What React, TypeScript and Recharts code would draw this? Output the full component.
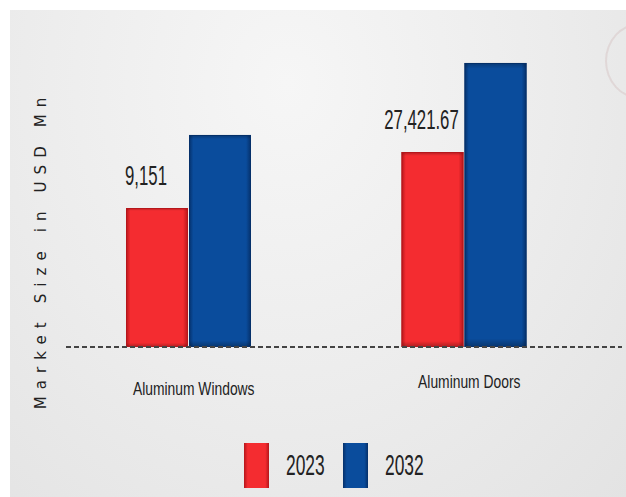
import { BarChart, Bar, XAxis, YAxis, Legend, LabelList, ReferenceLine } from 'recharts';

const CATEGORIES = ['Aluminum Windows', 'Aluminum Doors'];
const VALUES_2023 = [9151, 27421.67];
const VALUES_2032 = [33000, 56500];
const SERIES = ['2023', '2032'];
const COLORS = ['#f42c30', '#0a4c9c'];
const EDGES = ['#b5161b', '#05306a'];

// bars are not drawn to scale in the source, so the axis floor sits below zero
const AXIS_FLOOR = -36200;
const AXIS_TOP = 64000;

const data = CATEGORIES.map((name, i) => ({
  name,
  y2023: VALUES_2023[i],
  y2032: VALUES_2032[i],
}));

const NARROW = "'Liberation Sans Narrow', 'Liberation Sans', Arial, sans-serif";

const BevelBar = (props: any) => {
  const { x, y, width, height, idx } = props;
  if (!height || height <= 0) return null;
  return (
    <g>
      <rect x={x} y={y} width={width} height={height} fill={`url(#side${idx})`} />
      <rect x={x} y={y} width={width} height={height} fill="url(#topShade)" />
      <rect x={x + 0.5} y={y + 0.5} width={width - 1} height={height - 1} fill="none" stroke={EDGES[idx]} strokeWidth={1} />
    </g>
  );
};

const ValueLabel = (props: any) => {
  const { x, y, width, index } = props;
  const text = VALUES_2023[index].toLocaleString('en-US', { maximumFractionDigits: 2 });
  const cx = x + width / 2 - 11;
  return (
    <text transform={`translate(${cx}, ${y - 23}) scale(0.62, 1)`} textAnchor="middle" fontFamily={NARROW} fontSize={27} fill="#222">
      {text}
    </text>
  );
};

const CategoryTick = (props: any) => {
  const { x, y, payload, index } = props;
  const lift = index === 1 ? -7 : 0;
  return (
    <text transform={`translate(${x + 5}, ${y + 40 + lift}) scale(0.77, 1)`} textAnchor="middle" fontFamily={NARROW} fontSize={18} fill="#222">
      {payload.value}
    </text>
  );
};

const AxisTitle = () => (
  <text
    transform="translate(46, 250) rotate(-90)"
    textAnchor="middle"
    fontFamily="'DejaVu Sans', sans-serif"
    fontSize={15}
    letterSpacing={7.1}
    fill="#222"
  >
    Market Size in USD Mn
  </text>
);

const LegendBox = () => (
  <div style={{ display: 'flex', alignItems: 'center' }}>
    {SERIES.map((s, i) => (
      <div key={s} style={{ display: 'flex', alignItems: 'center' }}>
        <span
          style={{
            display: 'inline-block',
            width: 25,
            height: 45,
            background: `linear-gradient(to right, ${EDGES[i]} 0%, ${COLORS[i]} 15%, ${COLORS[i]} 85%, ${EDGES[i]} 100%)`,
          }}
        />
        <span style={{ display: 'inline-block', width: 57, marginLeft: 17 }}>
          <span
            style={{
              display: 'inline-block',
              fontFamily: NARROW,
              fontSize: 29,
              color: '#222',
              transform: 'scaleX(0.6)',
              transformOrigin: 'left center',
            }}
          >
            {s}
          </span>
        </span>
      </div>
    ))}
  </div>
);

const BaseLine = (props: any) => {
  const { y1 } = props;
  return <line x1={66} x2={622} y1={y1} y2={y1} stroke="#444" strokeWidth={2} strokeDasharray="5 3" />;
};

export default function App() {
  return (
    <div style={{ position: 'absolute', left: 0, top: 0, width: 626, height: 497, background: '#fff', overflow: 'hidden' }}>
      <div
        style={{
          position: 'absolute',
          left: 10,
          top: 10,
          width: 616,
          height: 487,
          background: 'radial-gradient(ellipse at 45% 15%, #f6f6f6 0%, #ececec 55%, #e3e3e3 100%)',
        }}
      />
      <div
        style={{
          position: 'absolute',
          left: 605,
          top: 23,
          width: 66,
          height: 72,
          borderRadius: '50%',
          border: '2px solid rgba(190,150,150,0.22)',
        }}
      />
      <div style={{ position: 'absolute', left: 0, top: 0 }}>
        <BarChart
          width={626}
          height={497}
          data={data}
          margin={{ top: 40, right: 24, bottom: 120, left: 51 }}
          barSize={62}
          barGap={1}
        >
          <defs>
            {COLORS.map((c, i) => (
              <linearGradient key={c} id={`side${i}`} x1="0" y1="0" x2="1" y2="0">
                <stop offset="0%" stopColor={EDGES[i]} />
                <stop offset="7%" stopColor={c} />
                <stop offset="92%" stopColor={c} />
                <stop offset="100%" stopColor={EDGES[i]} />
              </linearGradient>
            ))}
            <linearGradient id="topShade" x1="0" y1="0" x2="0" y2="1">
              <stop offset="0%" stopColor="#000" stopOpacity={0.25} />
              <stop offset="2%" stopColor="#000" stopOpacity={0} />
              <stop offset="97%" stopColor="#000" stopOpacity={0} />
              <stop offset="100%" stopColor="#000" stopOpacity={0.3} />
            </linearGradient>
          </defs>
          <XAxis dataKey="name" axisLine={false} tickLine={false} tick={<CategoryTick />} interval={0} />
          <YAxis hide domain={[AXIS_FLOOR, AXIS_TOP]} allowDataOverflow type="number" />
          <Legend
            layout="vertical"
            align="center"
            verticalAlign="middle"
            content={<LegendBox />}
            wrapperStyle={{ left: 244, top: 443, width: 'auto' }}
          />
          <Bar
            dataKey={(d: any) => [AXIS_FLOOR, d.y2023]}
            name={SERIES[0]}
            fill={COLORS[0]}
            shape={(p: any) => <BevelBar {...p} idx={0} />}
            isAnimationActive={false}
          >
            <LabelList content={<ValueLabel />} />
          </Bar>
          <Bar
            dataKey={(d: any) => [AXIS_FLOOR, d.y2032]}
            name={SERIES[1]}
            fill={COLORS[1]}
            shape={(p: any) => <BevelBar {...p} idx={1} />}
            isAnimationActive={false}
          />
          <ReferenceLine y={AXIS_FLOOR} shape={<BaseLine />} ifOverflow="visible" />
          <AxisTitle />
        </BarChart>
      </div>
    </div>
  );
}
